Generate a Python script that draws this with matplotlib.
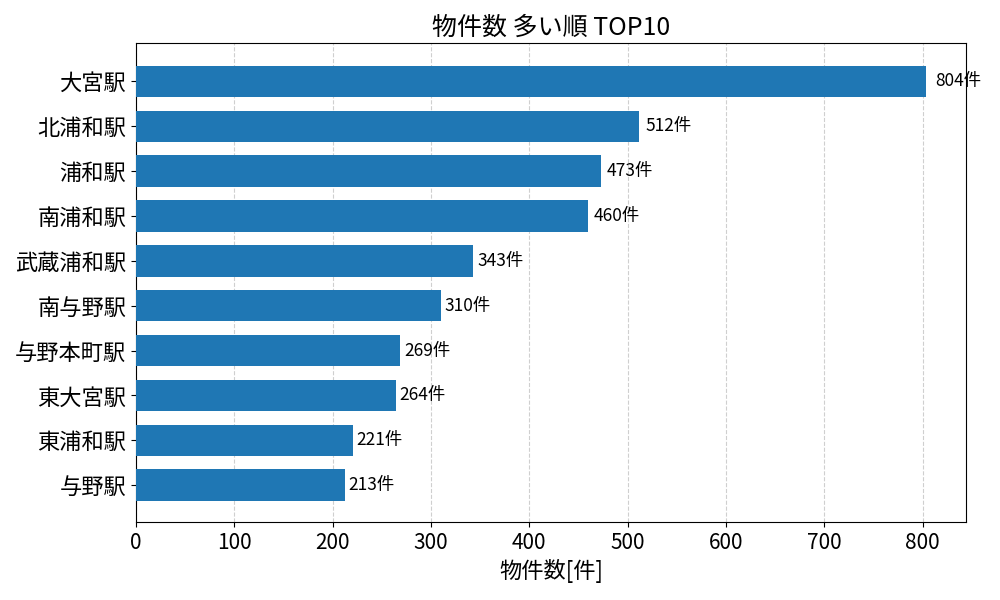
import matplotlib
matplotlib.use('Agg')
import matplotlib.pyplot as plt

plt.rcParams['font.family'] = ['Noto Sans CJK JP', 'DejaVu Sans']

# data (top to bottom as in the chart)
stations = ['大宮駅', '北浦和駅', '浦和駅', '南浦和駅', '武蔵浦和駅',
            '南与野駅', '与野本町駅', '東大宮駅', '東浦和駅', '与野駅']
counts = [804, 512, 473, 460, 343, 310, 269, 264, 221, 213]

fig, ax = plt.subplots(figsize=(10, 6), dpi=100)
fig.subplots_adjust(left=0.136, right=0.966, top=0.928, bottom=0.13)

y = list(range(len(stations)))[::-1]
ax.barh(y, counts, height=0.7, color='#1f77b4', zorder=3)
ax.set_yticks(y)
ax.set_yticklabels(stations, fontsize=16)
ax.tick_params(axis='x', labelsize=15)
ax.set_xlim(0, max(counts) * 1.05)
ax.set_ylim(-0.82, len(stations) - 0.15)

for yy, c in zip(y, counts):
    ax.text(c * 1.01 + 1, yy, f'{c}件', va='center', ha='left', fontsize=12.5, zorder=4)

ax.grid(axis='x', linestyle='--', alpha=0.6, zorder=0)
ax.set_xlabel('物件数[件]', fontsize=16)
ax.set_title('物件数 多い順 TOP10', fontsize=18)

fig.savefig('out.png')
